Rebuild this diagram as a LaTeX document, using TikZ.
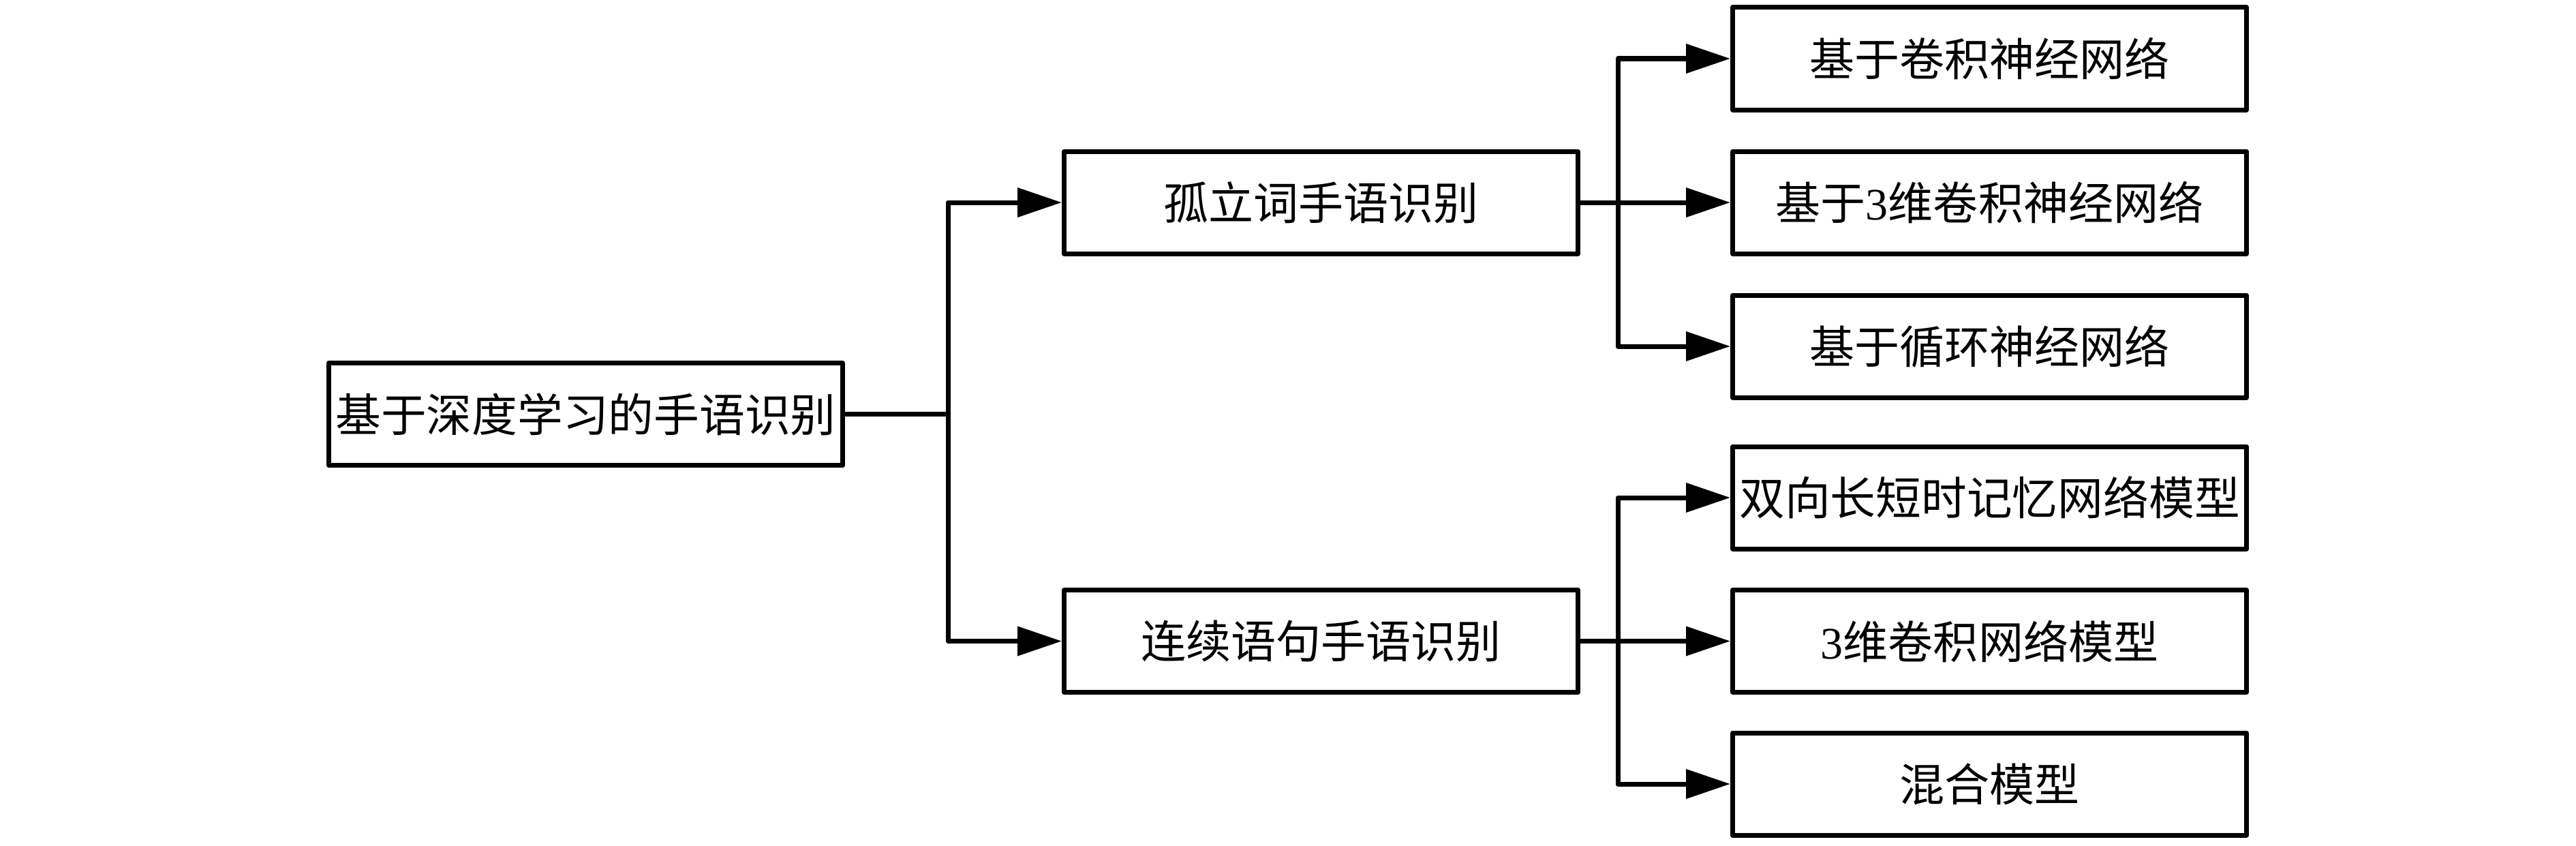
\documentclass[tikz,border=0pt]{standalone}
\usepackage{fontspec}
\setmainfont{Noto Sans CJK SC}
\newfontfamily\latinserif{Liberation Serif}
\usetikzlibrary{arrows.meta}
\tikzset{
  box/.style={draw=black, line width=0.07cm, line join=round, fill=white,
    minimum width=7.54cm, minimum height=1.50cm, inner sep=0pt,
    font=\fontsize{18.8pt}{22pt}\selectfont},
  bigtext/.style={font=\fontsize{19pt}{23pt}\selectfont},
  link/.style={line width=0.07cm, line join=round, draw=black},
  arr/.style={link, -{Triangle[length=0.65cm,width=0.42cm]}}
}
\begin{document}
\begin{tikzpicture}
\useasboundingbox (0,0) rectangle (37.8,12.4);
\node[box, bigtext] (root) at (8.595,6.325) {基于深度学习的手语识别};
\node[box] (iso) at (19.385,9.43) {孤立词手语识别};
\node[box] (con) at (19.385,2.995) {连续语句手语识别};
\node[box] (l1) at (29.195,11.54) {基于卷积神经网络};
\node[box] (l2) at (29.195,9.43) {基于{\latinserif 3}维卷积神经网络};
\node[box] (l3) at (29.195,7.32) {基于循环神经网络};
\node[box, bigtext] (l4) at (29.195,5.10) {双向长短时记忆网络模型};
\node[box] (l5) at (29.195,2.995) {{\latinserif 3}维卷积网络模型};
\node[box] (l6) at (29.195,0.90) {混合模型};
\coordinate (j1) at (13.91,6.325);
\coordinate (j2) at (23.74,9.43);
\coordinate (j3) at (23.74,2.995);
\draw[link] (root.east) -- (j1);
\draw[arr] (j1) |- (iso.west);
\draw[arr] (j1) |- (con.west);
\draw[link] (iso.east) -- (j2);
\draw[arr] (j2) |- (l1.west);
\draw[arr] (j2) -- (l2.west);
\draw[arr] (j2) |- (l3.west);
\draw[link] (con.east) -- (j3);
\draw[arr] (j3) |- (l4.west);
\draw[arr] (j3) -- (l5.west);
\draw[arr] (j3) |- (l6.west);
\end{tikzpicture}
\end{document}
